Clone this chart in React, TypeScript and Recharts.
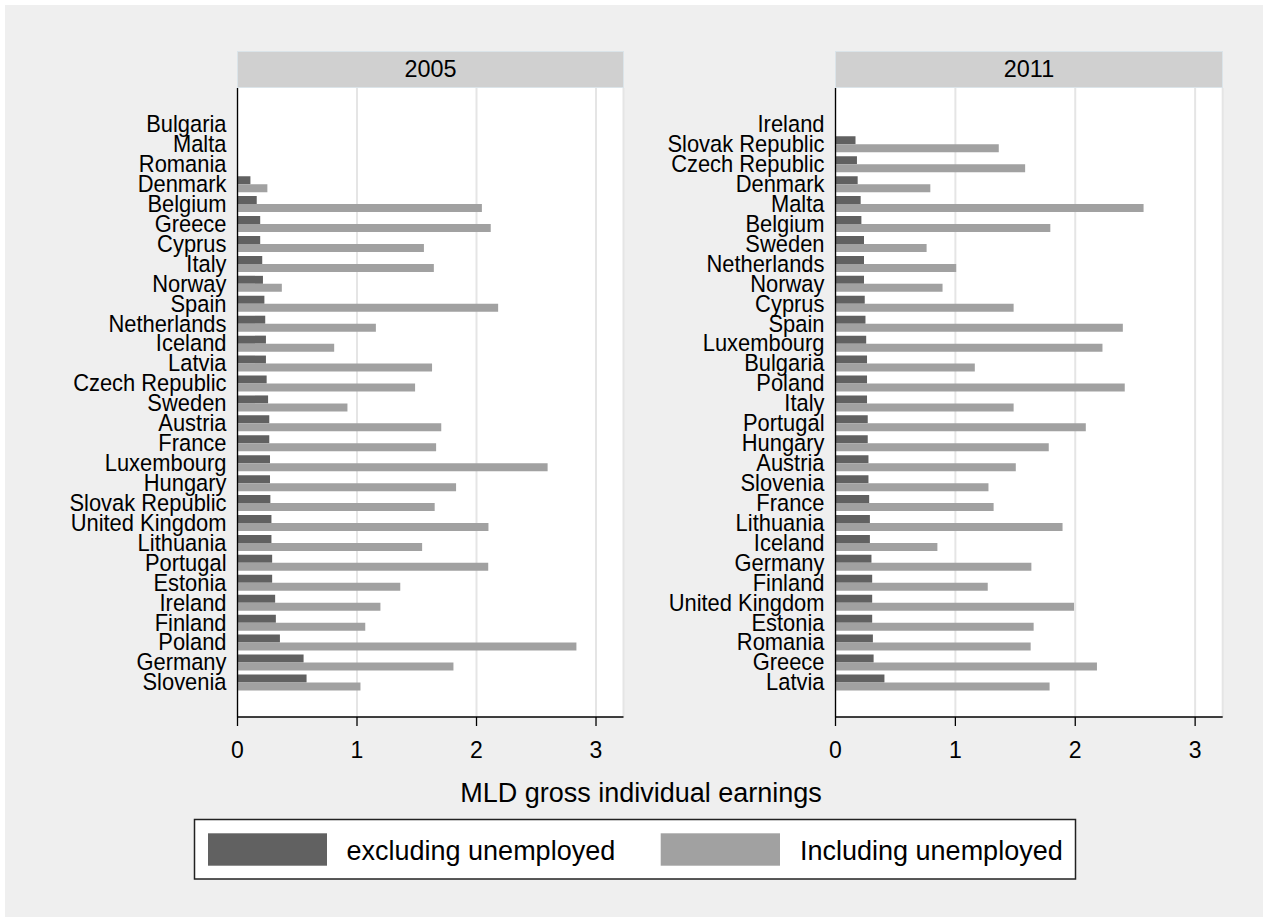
import React from 'react';
import { BarChart, Bar, XAxis, YAxis, CartesianGrid } from 'recharts';

// MLD of gross individual earnings by country, with and without the unemployed
const countries2005 = [
  'Bulgaria', 'Malta', 'Romania', 'Denmark', 'Belgium', 'Greece', 'Cyprus', 'Italy',
  'Norway', 'Spain', 'Netherlands', 'Iceland', 'Latvia', 'Czech Republic', 'Sweden',
  'Austria', 'France', 'Luxembourg', 'Hungary', 'Slovak Republic', 'United Kingdom',
  'Lithuania', 'Portugal', 'Estonia', 'Ireland', 'Finland', 'Poland', 'Germany', 'Slovenia',
];
const excluding2005 = [
  null, null, null, 0.108, 0.161, 0.19, 0.19, 0.207,
  0.213, 0.225, 0.232, 0.238, 0.238, 0.244, 0.256,
  0.266, 0.266, 0.272, 0.272, 0.275, 0.284,
  0.284, 0.29, 0.29, 0.315, 0.321, 0.355, 0.553, 0.578,
];
const including2005 = [
  null, null, null, 0.25, 2.045, 2.119, 1.56, 1.643,
  0.371, 2.181, 1.158, 0.809, 1.628, 1.486, 0.92,
  1.705, 1.662, 2.595, 1.829, 1.65, 2.1,
  1.545, 2.098, 1.362, 1.196, 1.069, 2.836, 1.807, 1.029,
];

const countries2011 = [
  'Ireland', 'Slovak Republic', 'Czech Republic', 'Denmark', 'Malta', 'Belgium', 'Sweden',
  'Netherlands', 'Norway', 'Cyprus', 'Spain', 'Luxembourg', 'Bulgaria', 'Poland', 'Italy',
  'Portugal', 'Hungary', 'Austria', 'Slovenia', 'France', 'Lithuania', 'Iceland', 'Germany',
  'Finland', 'United Kingdom', 'Estonia', 'Romania', 'Greece', 'Latvia',
];
const excluding2011 = [
  null, 0.167, 0.179, 0.185, 0.21, 0.216, 0.238,
  0.238, 0.238, 0.244, 0.25, 0.256, 0.263, 0.263, 0.263,
  0.269, 0.269, 0.275, 0.275, 0.281, 0.287, 0.287, 0.3,
  0.306, 0.306, 0.306, 0.312, 0.318, 0.408,
];
const including2011 = [
  null, 1.362, 1.582, 0.791, 2.57, 1.792, 0.76,
  1.007, 0.893, 1.486, 2.397, 2.227, 1.162, 2.413, 1.486,
  2.088, 1.779, 1.504, 1.276, 1.319, 1.894, 0.85, 1.634,
  1.27, 1.99, 1.653, 1.628, 2.181, 1.786,
];

const xTicks = [0, 1, 2, 3];

const FONT = '"Liberation Sans", Arial, Helvetica, sans-serif';
const DARK = '#616161';
const LIGHT = '#a1a1a1';

// country names are set a little narrow and tall, as in Stata output
function CountryTick(props: any) {
  const { x, y, payload } = props;
  return (
    <g transform={`translate(${x},${y}) scale(0.94,1)`}>
      <text x={0} y={0} dy="0.355em" textAnchor="end" fontSize={23.3} fontFamily={FONT} fill="#000">
        {payload.value}
      </text>
    </g>
  );
}

function Panel({ left, names, excl, incl, rightMargin }: {
  left: number;
  names: string[];
  excl: (number | null)[];
  incl: (number | null)[];
  rightMargin: number;
}) {
  const data = names.map((country, i) => ({ country, excl: excl[i], incl: incl[i] }));
  return (
    <div style={{ position: 'absolute', left, top: 88 }}>
      <BarChart
        width={640}
        height={680}
        data={data}
        layout="vertical"
        barCategoryGap="12%"
        barGap={0}
        margin={{ top: 0, right: rightMargin, bottom: 0, left: 0 }}
      >
        <CartesianGrid horizontal={false} stroke="#e5e5e5" strokeWidth={2} fill="#ffffff" />
        <XAxis
          type="number"
          domain={[0, 3.23]}
          ticks={xTicks}
          allowDataOverflow
          height={51}
          axisLine={{ stroke: '#000', strokeWidth: 1.3 }}
          tickLine={{ stroke: '#000', strokeWidth: 1.3 }}
          tickSize={9}
          tickMargin={16}
          tick={{ fontSize: 23, fontFamily: FONT, fill: '#000' }}
        />
        <YAxis
          type="category"
          dataKey="country"
          width={237.5}
          interval={0}
          padding={{ top: 26, bottom: 25 }}
          axisLine={{ stroke: '#000', strokeWidth: 1.3 }}
          tickLine={false}
          tickSize={0}
          tickMargin={11}
          tick={<CountryTick />}
        />
        <Bar dataKey="excl" fill={DARK} isAnimationActive={false} />
        <Bar dataKey="incl" fill={LIGHT} isAnimationActive={false} />
      </BarChart>
    </div>
  );
}

export default function App() {
  return (
    <div style={{ position: 'absolute', left: 0, top: 0, width: 1263, height: 917, fontFamily: FONT }}>
      <svg width={1263} height={917} style={{ position: 'absolute', left: 0, top: 0 }}>
        <rect x={0} y={0} width={1263} height={917} fill="#ffffff" />
        <rect x={5} y={5} width={1258} height={912} fill="#efefef" />

        {/* panel headers */}
        <rect x={237.5} y={51.5} width={386} height={36} fill="#d0d0d0" stroke="#dbe4e9" strokeWidth={1} />
        <text x={430.5} y={77} textAnchor="middle" fontSize={23.4} fontFamily={FONT} fill="#000">2005</text>
        <rect x={835.5} y={51.5} width={387} height={36} fill="#d0d0d0" stroke="#dbe4e9" strokeWidth={1} />
        <text x={1029} y={77} textAnchor="middle" fontSize={23.4} fontFamily={FONT} fill="#000">2011</text>

        {/* shared axis title */}
        <text x={641} y={802} textAnchor="middle" fontSize={27} fontFamily={FONT} fill="#000">
          MLD gross individual earnings
        </text>

        {/* legend */}
        <rect x={194.5} y={819.5} width={881} height={59.5} fill="#ffffff" stroke="#222" strokeWidth={1.5} />
        <rect x={208} y={833.3} width={119} height={32.4} fill={DARK} />
        <text x={346.5} y={860} fontSize={27} fontFamily={FONT} fill="#000">excluding unemployed</text>
        <rect x={660.7} y={833.3} width={119.3} height={32.4} fill={LIGHT} />
        <text x={800} y={860} fontSize={27} fontFamily={FONT} fill="#000">Including unemployed</text>
      </svg>

      <Panel left={0} names={countries2005} excl={excluding2005} incl={including2005} rightMargin={16.5} />
      <Panel left={598} names={countries2011} excl={excluding2011} incl={including2011} rightMargin={15.3} />
    </div>
  );
}
